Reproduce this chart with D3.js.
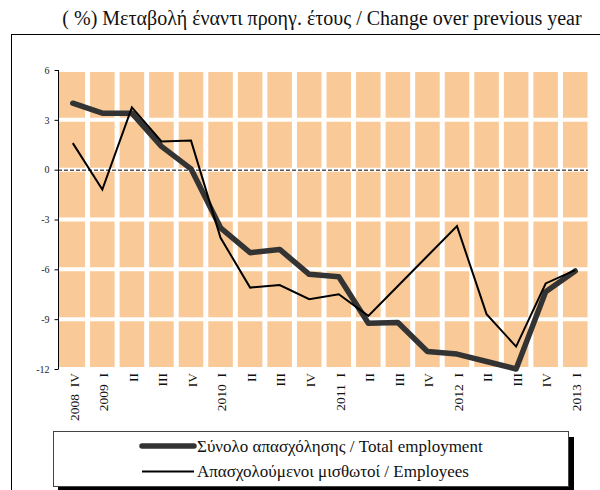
<!DOCTYPE html>
<html>
<head>
<meta charset="utf-8">
<script src="https://cdn.jsdelivr.net/npm/d3@7"></script>
<style>
  body { margin: 0; background: #fff; }
  svg { display: block; font-family: "Liberation Serif", "DejaVu Serif", serif; }
</style>
</head>
<body>
<svg width="600" height="490"></svg>
<script>
// quarters on the x axis
var quarters = ["2008\u00a0 IV", "2009\u00a0 I", "II", "III", "IV", "2010\u00a0 I", "II", "III", "IV",
                "2011\u00a0 I", "II", "III", "IV", "2012\u00a0 I", "II", "III", "IV", "2013\u00a0 I"];

// total employment, % change over previous year
var totalEmployment = [4.0, 3.4, 3.4, 1.4, 0.05, -3.5, -5.0, -4.8, -6.3, -6.45, -9.25, -9.2,
                       -10.95, -11.1, -11.55, -12.0, -7.35, -6.1];

// employees, % change over previous year
var employees = [1.6, -1.2, 3.75, 1.7, 1.75, -4.1, -7.1, -6.95, -7.8, -7.5, -8.8, -7.0,
                 -5.2, -3.4, -8.7, -10.65, -6.85, -6.05];

var yTicks = [6, 3, 0, -3, -6, -9, -12];

var svg = d3.select("svg");

// outer frame (only left and top edges are visible)
svg.append("line").attr("x1", 11.5).attr("y1", 34.5).attr("x2", 11.5).attr("y2", 490).attr("stroke", "#000");
svg.append("line").attr("x1", 11).attr("y1", 34.5).attr("x2", 600).attr("y2", 34.5).attr("stroke", "#000");

// title
svg.append("text")
  .attr("x", 322).attr("y", 25)
  .attr("text-anchor", "middle")
  .attr("font-size", 20)
  .attr("fill", "#111")
  .text("( %) Μεταβολή έναντι προηγ. έτους / Change over previous year");

var plotL = 58, plotR = 590, plotT = 70, plotB = 369;

var x = d3.scaleBand().domain(d3.range(quarters.length)).range([plotL, plotR]).padding(0);
var y = d3.scaleLinear().domain([-12, 6]).range([plotB, plotT]);

// plot background
svg.append("rect")
  .attr("x", plotL).attr("y", plotT)
  .attr("width", plotR - plotL).attr("height", plotB - plotT)
  .attr("fill", "#f9ca97");

// white gridlines
svg.append("g").selectAll("line")
  .data(d3.range(1, quarters.length + 1))
  .enter().append("line")
  .attr("x1", function(i) { return x.step() * i + plotL; })
  .attr("x2", function(i) { return x.step() * i + plotL; })
  .attr("y1", plotT).attr("y2", plotB)
  .attr("stroke", "#fff").attr("stroke-width", 5);

svg.append("g").selectAll("line")
  .data(yTicks)
  .enter().append("line")
  .attr("x1", plotL).attr("x2", plotR)
  .attr("y1", function(d) { return y(d); })
  .attr("y2", function(d) { return y(d); })
  .attr("stroke", "#fff").attr("stroke-width", 4);

// white strip right of the plot so the last gridline ends cleanly
svg.append("rect").attr("x", plotR).attr("y", plotT - 3).attr("width", 6).attr("height", plotB - plotT + 6).attr("fill", "#fff");

// zero line, dashed
svg.append("line")
  .attr("x1", plotL).attr("x2", plotR - 2)
  .attr("y1", y(0) + 0.5).attr("y2", y(0) + 0.5)
  .attr("stroke", "#000").attr("stroke-width", 1)
  .attr("stroke-dasharray", "4,2");

// y axis
var yAxis = d3.axisLeft(y).tickValues(yTicks).tickSize(4).tickPadding(5).tickFormat(d3.format("d"));
var gy = svg.append("g").attr("transform", "translate(" + (plotL + 0.5) + ",0)").call(yAxis);
gy.select(".domain").attr("stroke", "#000").attr("d", "M0," + plotT + "V" + plotB);
gy.selectAll(".tick line").attr("stroke", "#000");
gy.selectAll(".tick text")
  .attr("font-family", "Liberation Serif, serif")
  .attr("font-size", 10).attr("fill", "#222")
  .text(function(d) { return d < 0 ? "-" + Math.abs(d) : d; });

// x labels, rotated
svg.append("g").selectAll("text")
  .data(quarters)
  .enter().append("text")
  .attr("transform", function(d, i) {
    return "translate(" + (x(i) + x.bandwidth() / 2 + 1) + "," + (plotB + 4) + ") rotate(-90)";
  })
  .attr("text-anchor", "end")
  .attr("dy", "0.35em")
  .attr("font-size", 13.5)
  .attr("fill", "#111")
  .text(function(d) { return d; });

var line = d3.line()
  .x(function(d, i) { return x(i) + x.bandwidth() / 2; })
  .y(function(d) { return y(d); });

svg.append("path")
  .datum(totalEmployment)
  .attr("d", line)
  .attr("fill", "none")
  .attr("stroke", "#333")
  .attr("stroke-width", 5.5)
  .attr("stroke-linejoin", "round")
  .attr("stroke-linecap", "round");

svg.append("path")
  .datum(employees)
  .attr("d", line)
  .attr("fill", "none")
  .attr("stroke", "#000")
  .attr("stroke-width", 2)
  .attr("stroke-linejoin", "miter");

// legend with shadow
var lg = svg.append("g");
lg.append("rect").attr("x", 58).attr("y", 437).attr("width", 516).attr("height", 56).attr("fill", "#000");
lg.append("rect").attr("x", 53.5).attr("y", 431.5).attr("width", 515).attr("height", 55)
  .attr("fill", "#fff").attr("stroke", "#444").attr("stroke-width", 1);

var legendItems = [
  { label: "Σύνολο απασχόλησης / Total employment", width: 5.5, color: "#333" },
  { label: "Απασχολούμενοι μισθωτοί / Employees", width: 2, color: "#000" }
];

legendItems.forEach(function(it, i) {
  var ly = 446 + i * 25.5;
  lg.append("line")
    .attr("x1", 142).attr("x2", 194)
    .attr("y1", ly).attr("y2", ly)
    .attr("stroke", it.color).attr("stroke-width", it.width)
    .attr("stroke-linecap", it.width > 3 ? "round" : "butt");
  lg.append("text")
    .attr("x", 197).attr("y", ly)
    .attr("dy", "0.35em")
    .attr("font-size", 17)
    .attr("fill", "#111")
    .text(it.label);
});
</script>
</body>
</html>
